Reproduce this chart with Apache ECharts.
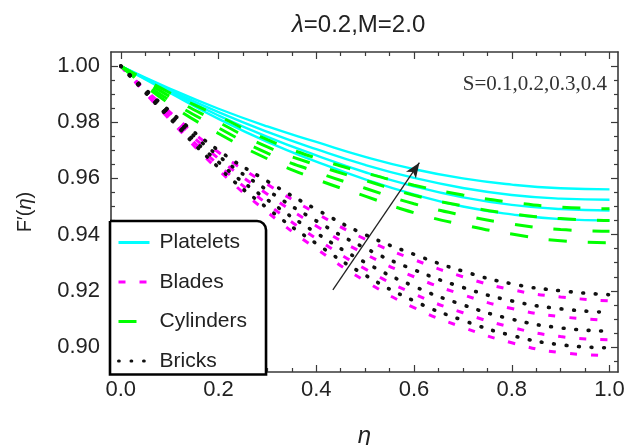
<!DOCTYPE html>
<html>
<head>
<meta charset="utf-8">
<script src="https://cdn.jsdelivr.net/npm/echarts@6/dist/echarts.min.js"></script>
<style>
html,body{margin:0;padding:0;background:#fff;}
#c{width:624px;height:445px;}
</style>
</head>
<body>
<div id="c"></div>
<script>
// ---- data ----
const ETA = [0, 0.1, 0.2, 0.3, 0.4, 0.5, 0.6, 0.7, 0.8, 0.9, 1.0];
const S_VALUES = ['0.1', '0.2', '0.3', '0.4'];
const LEGEND_NAMES = ['Platelets', 'Blades', 'Cylinders', 'Bricks'];

const PLATELETS = [
  [1, 0.9920, 0.9848, 0.9785, 0.9730, 0.9677, 0.9633, 0.9600, 0.9578, 0.9565, 0.9561],
  [1, 0.9915, 0.9836, 0.9766, 0.9704, 0.9648, 0.9602, 0.9566, 0.9541, 0.9528, 0.9524],
  [1, 0.9910, 0.9824, 0.9748, 0.9682, 0.9622, 0.9572, 0.9533, 0.9506, 0.9491, 0.9486],
  [1, 0.9905, 0.9812, 0.9730, 0.9660, 0.9597, 0.9543, 0.9500, 0.9472, 0.9455, 0.9450]
];
const BLADES = [
  [1, 0.9837, 0.9693, 0.9579, 0.9476, 0.9384, 0.9311, 0.9250, 0.9204, 0.9178, 0.9164],
  [1, 0.9827, 0.9671, 0.9544, 0.9431, 0.9331, 0.9250, 0.9186, 0.9137, 0.9108, 0.9095],
  [1, 0.9818, 0.9648, 0.9509, 0.9386, 0.9278, 0.9189, 0.9122, 0.9070, 0.9037, 0.9026],
  [1, 0.9810, 0.9630, 0.9480, 0.9350, 0.9235, 0.9140, 0.9070, 0.9015, 0.8980, 0.8970]
];
const CYLINDERS = [
  [1, 0.9905, 0.9822, 0.9738, 0.9672, 0.9620, 0.9576, 0.9541, 0.9515, 0.9498, 0.9492],
  [1, 0.9892, 0.9800, 0.9712, 0.9648, 0.9593, 0.9540, 0.9502, 0.9474, 0.9457, 0.9450],
  [1, 0.9878, 0.9780, 0.9690, 0.9623, 0.9565, 0.9510, 0.9469, 0.9438, 0.9418, 0.9412],
  [1, 0.9865, 0.9760, 0.9670, 0.9597, 0.9537, 0.9478, 0.9435, 0.9402, 0.9378, 0.9371]
];
const BRICKS = [
  [1, 0.9840, 0.9700, 0.9590, 0.9490, 0.9400, 0.9330, 0.9270, 0.9225, 0.9200, 0.9186],
  [1, 0.9831, 0.9680, 0.9558, 0.9449, 0.9352, 0.9275, 0.9212, 0.9164, 0.9136, 0.9123],
  [1, 0.9822, 0.9658, 0.9524, 0.9406, 0.9301, 0.9216, 0.9150, 0.9099, 0.9068, 0.9056],
  [1, 0.9814, 0.9639, 0.9494, 0.9368, 0.9256, 0.9164, 0.9095, 0.9041, 0.9008, 0.8997]
];

const X_MAJOR = [0, 0.2, 0.4, 0.6, 0.8, 1.0];
const X_MINOR = [0.05, 0.1, 0.15, 0.25, 0.3, 0.35, 0.45, 0.5, 0.55, 0.65, 0.7, 0.75, 0.85, 0.9, 0.95];
const Y_MAJOR = [0.90, 0.92, 0.94, 0.96, 0.98, 1.00];
const Y_MINOR = [0.895, 0.905, 0.91, 0.915, 0.925, 0.93, 0.935, 0.945, 0.95, 0.955, 0.965, 0.97, 0.975, 0.985, 0.99, 0.995];
const ARROW = [[0.434, 0.9203], [0.611, 0.9656]];

const TITLE = '{i|λ}=0.2,M=2.0';
const ANNOT = 'S=' + S_VALUES.join(',');

// ---- chart ----
const X_MIN = -0.02, X_MAX = 1.0174, Y_MIN = 0.8911, Y_MAX = 1.005;
const FRAME = '#3a3a3a';
const SANS = 'Liberation Sans';

function axisBase(pos, isX, ticks, len, showLine, labels) {
  const a = {
    type: 'value', position: pos, min: isX ? X_MIN : Y_MIN, max: isX ? X_MAX : Y_MAX,
    splitLine: { show: false },
    axisLine: { show: showLine, onZero: false, lineStyle: { color: FRAME, width: 1.6 } },
    axisTick: { show: true, inside: true, length: len, customValues: ticks, lineStyle: { color: FRAME, width: 1.2 } },
    axisLabel: { show: false }
  };
  if (labels) {
    a.axisLabel = {
      show: true, customValues: ticks, fontFamily: SANS, fontSize: 22, color: '#222',
      margin: isX ? 7 : 11,
      formatter: v => isX ? v.toFixed(1) : v.toFixed(2)
    };
  }
  return a;
}

const xAxes = [
  Object.assign(axisBase('bottom', true, X_MAJOR, 7, true, true), {
    name: '{e|η}', nameLocation: 'middle', nameGap: 52,
    nameTextStyle: { rich: { e: { fontFamily: SANS, fontSize: 24, fontStyle: 'italic', color: '#222' } } }
  }),
  axisBase('bottom', true, X_MINOR, 4, false, false),
  axisBase('top', true, X_MAJOR, 7, true, false),
  axisBase('top', true, X_MINOR, 4, false, false)
];
const yAxes = [
  Object.assign(axisBase('left', false, Y_MAJOR, 7, true, true), {
    name: '{a|F′(}{e|η}{a|)}', nameLocation: 'middle', nameGap: 76, nameRotate: 90,
    nameTextStyle: { rich: {
      a: { fontFamily: SANS, fontSize: 20, color: '#222' },
      e: { fontFamily: SANS, fontSize: 20, fontStyle: 'italic', color: '#222' }
    } }
  }),
  axisBase('left', false, Y_MINOR, 4, false, false),
  axisBase('right', false, Y_MAJOR, 7, true, false),
  axisBase('right', false, Y_MINOR, 4, false, false)
];

function mk(name, vals, color, width, dash, cap, z) {
  return {
    type: 'line', name: name, xAxisIndex: 0, yAxisIndex: 0,
    data: ETA.map((x, i) => [x, vals[i]]),
    symbol: 'none', symbolSize: 0, showSymbol: false, smooth: true,
    lineStyle: { color: color, width: width, type: dash, cap: cap },
    itemStyle: { color: color },
    z: z, silent: true, animation: false
  };
}

const series = [];
PLATELETS.forEach(v => series.push(mk('Platelets', v, '#00ffff', 2.4, 'solid', 'butt', 2)));
BLADES.forEach(v => series.push(mk('Blades', v, '#ff00ff', 3, [7, 14], 'butt', 3)));
CYLINDERS.forEach(v => series.push(mk('Cylinders', v, '#00ff00', 3, [18, 21], 'butt', 4)));
BRICKS.forEach(v => series.push(mk('Bricks', v, '#111111', 3.6, [0.8, 11.7], 'round', 5)));

series.push({
  type: 'line', name: 'arrow', data: [], symbol: 'none', silent: true, animation: false, z: 6,
  markLine: {
    silent: true, animation: false, symbol: ['none', 'arrow'], symbolSize: [9, 15],
    label: { show: false },
    lineStyle: { color: '#222', width: 1.3, type: 'solid' },
    emphasis: { disabled: true },
    data: [[{ coord: ARROW[0] }, { coord: ARROW[1] }]]
  }
});

const chart = echarts.init(document.getElementById('c'), null, { renderer: 'canvas' });
chart.setOption({
  backgroundColor: '#ffffff',
  animation: false,
  title: [
    {
      text: TITLE, left: 292, top: 13, padding: 0,
      textStyle: { fontFamily: SANS, fontSize: 24, fontWeight: 'normal', color: '#222',
        rich: { i: { fontFamily: SANS, fontSize: 24, fontStyle: 'italic', color: '#222' } } }
    },
    {
      text: ANNOT, right: 17, top: 74, padding: 0,
      textStyle: { fontFamily: 'Liberation Serif', fontSize: 21, fontWeight: 'normal', color: '#333' }
    }
  ],
  grid: { left: 111, right: 6, top: 52, bottom: 73, containLabel: false, outerBoundsMode: 'none' },
  xAxis: xAxes,
  yAxis: yAxes,
  legend: {
    data: LEGEND_NAMES, orient: 'vertical', left: 110, top: 221,
    padding: [11, 19, 3, 7], itemWidth: 31, itemHeight: 20, itemGap: 18.5,
    backgroundColor: '#ffffff', borderColor: '#000', borderWidth: 2.6, borderRadius: [0, 9, 0, 0],
    selectedMode: false,
    itemStyle: { opacity: 0 },
    lineStyle: { width: 3 },
    textStyle: { fontFamily: SANS, fontSize: 21, color: '#222', padding: [0, 0, 0, 5], lineHeight: 20 },
    z: 10
  },
  series: series
});
</script>
</body>
</html>
